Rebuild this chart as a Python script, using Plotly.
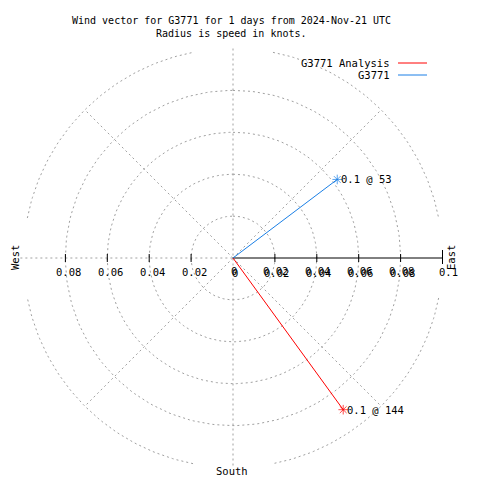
import numpy as np
import plotly.graph_objects as go

# ---- data ----
series_names = ["G3771 Analysis", "G3771"]
directions = [144, 53]            # degrees from north
speeds = [0.0895, 0.0623]         # knots
point_labels = ["0.1 @ 144", "0.1 @ 53"]
colors = ["#ff0000", "#1a7fe6"]
ring_radii = [0.02, 0.04, 0.06, 0.08]
outer_radius = 0.1
east_ticks = [0.0, 0.02, 0.04, 0.06, 0.08]
east_labels = ["0", "0.02", "0.04", "0.06", "0.08"]
west_ticks = [-0.08, -0.06, -0.04, -0.02]
west_labels = ["0.08", "0.06", "0.04", "0.02"]

W = H = 480
OFF = 8             # page body margin
S = 2095.0          # pixels per knot
CX, CY = 233 - OFF, 258 - OFF   # center in figure pixels
FONT = "DejaVu Sans Mono"
GRID = "#a0a0a0"

fig = go.Figure()

def px(xp, yp):
    # page pixel -> paper coords
    return (xp - OFF) / W, 1 - (yp - OFF) / H

# rings
for r in ring_radii:
    t = np.linspace(0, 2 * np.pi, 241)
    fig.add_trace(go.Scatter(x=r * np.sin(t), y=r * np.cos(t), mode="lines",
                             line=dict(color=GRID, width=1, dash="2px,3px"),
                             hoverinfo="skip", showlegend=False))
# outer ring with gaps near axes
for q in range(4):
    t = np.radians(np.linspace(q * 90 + 11, q * 90 + 79, 60))
    fig.add_trace(go.Scatter(x=outer_radius * np.sin(t), y=outer_radius * np.cos(t), mode="lines",
                             line=dict(color=GRID, width=1, dash="2px,3px"),
                             hoverinfo="skip", showlegend=False))
# diagonals
for a in [45, 135, 225, 315]:
    t = np.radians(a)
    fig.add_trace(go.Scatter(x=[0, outer_radius * np.sin(t)], y=[0, outer_radius * np.cos(t)],
                             mode="lines", line=dict(color=GRID, width=1, dash="2px,3px"),
                             hoverinfo="skip", showlegend=False))
# vertical and west axis (grey dotted)
fig.add_trace(go.Scatter(x=[0, 0], y=[outer_radius, -outer_radius], mode="lines",
                         line=dict(color=GRID, width=1, dash="2px,3px"),
                         hoverinfo="skip", showlegend=False))
fig.add_trace(go.Scatter(x=[-outer_radius - 0.0015, 0], y=[0, 0], mode="lines",
                         line=dict(color=GRID, width=1, dash="2px,3px"),
                         hoverinfo="skip", showlegend=False))
# east axis black solid
fig.add_trace(go.Scatter(x=[0, outer_radius], y=[0, 0], mode="lines",
                         line=dict(color="black", width=1),
                         hoverinfo="skip", showlegend=False))
# ticks
tx, ty = [], []
h = 4 / S
for v in west_ticks + east_ticks[1:]:
    tx += [v, v, None]
    ty += [-h, h, None]
tx += [outer_radius, outer_radius, None]
ty += [-1.5 * h, 2 * h, None]
fig.add_trace(go.Scatter(x=tx, y=ty, mode="lines", line=dict(color="black", width=1),
                         hoverinfo="skip", showlegend=False))

# vectors
for name, d, s, c in zip(series_names, directions, speeds, colors):
    t = np.radians(d)
    fig.add_trace(go.Scatter(x=[0, s * np.sin(t)], y=[0, s * np.cos(t)], mode="lines+markers",
                             line=dict(color=c, width=1),
                             marker=dict(symbol=["circle", "asterisk-open"], size=[0, 8],
                                         color=c, line=dict(color=c, width=1)),
                             name=name, showlegend=False))

annotations = []
# point labels
for d, s, lab in zip(directions, speeds, point_labels):
    t = np.radians(d)
    annotations.append(dict(x=s * np.sin(t), y=s * np.cos(t), xref="x", yref="y", text=lab,
                            showarrow=False, xanchor="left", yanchor="middle", xshift=2,
                            font=dict(family=FONT, size=10.5, color="black")))
# tick labels
for v, lab in zip(west_ticks, west_labels):
    annotations.append(dict(x=v, y=0, xref="x", yref="y", text=lab, showarrow=False,
                            xanchor="center", yanchor="middle", xshift=3, yshift=-14,
                            font=dict(family=FONT, size=10.5, color="black")))
for v, lab in zip(east_ticks, east_labels):
    for dx, dy in [(1, -13), (2, -15)]:
        annotations.append(dict(x=v, y=0, xref="x", yref="y", text=lab, showarrow=False,
                                xanchor="center", yanchor="middle", xshift=dx, yshift=dy,
                                font=dict(family=FONT, size=10.5, color="black")))
annotations.append(dict(x=outer_radius, y=0, xref="x", yref="y", text="0.1", showarrow=False,
                        xanchor="left", yanchor="middle", xshift=-6, yshift=-14,
                        font=dict(family=FONT, size=10.5, color="black")))

def add_text(xp, yp, text, xanchor="center", size=10.5, angle=0):
    x, y = px(xp, yp)
    annotations.append(dict(x=x, y=y, xref="paper", yref="paper", text=text, showarrow=False,
                            xanchor=xanchor, yanchor="middle", textangle=angle,
                            font=dict(family=FONT, size=size, color="black")))

add_text(231, 20, "Wind vector for G3771 for 1 days from 2024-Nov-21 UTC", size=10)
add_text(231, 33, "Radius is speed in knots.", size=10)
add_text(15, 258, "West", angle=-90)
add_text(451, 258, "East", angle=-90)
add_text(232, 471, "South")
add_text(392, 63, series_names[0], xanchor="right")
add_text(392, 75, series_names[1], xanchor="right")

shapes = []
for yp, c in [(63, colors[0]), (75, colors[1])]:
    x0, y0 = px(398, yp)
    x1, _ = px(427, yp)
    shapes.append(dict(type="line", xref="paper", yref="paper", x0=x0, x1=x1, y0=y0, y1=y0,
                       line=dict(color=c, width=1)))

fig.update_layout(
    width=W, height=H, margin=dict(l=0, r=0, t=0, b=0),
    paper_bgcolor="white", plot_bgcolor="white",
    xaxis=dict(range=[-CX / S, (W - CX) / S], visible=False, fixedrange=True),
    yaxis=dict(range=[-(H - CY) / S, CY / S], visible=False, fixedrange=True),
    annotations=annotations, shapes=shapes, showlegend=False,
)
fig.write_html("out.html")
